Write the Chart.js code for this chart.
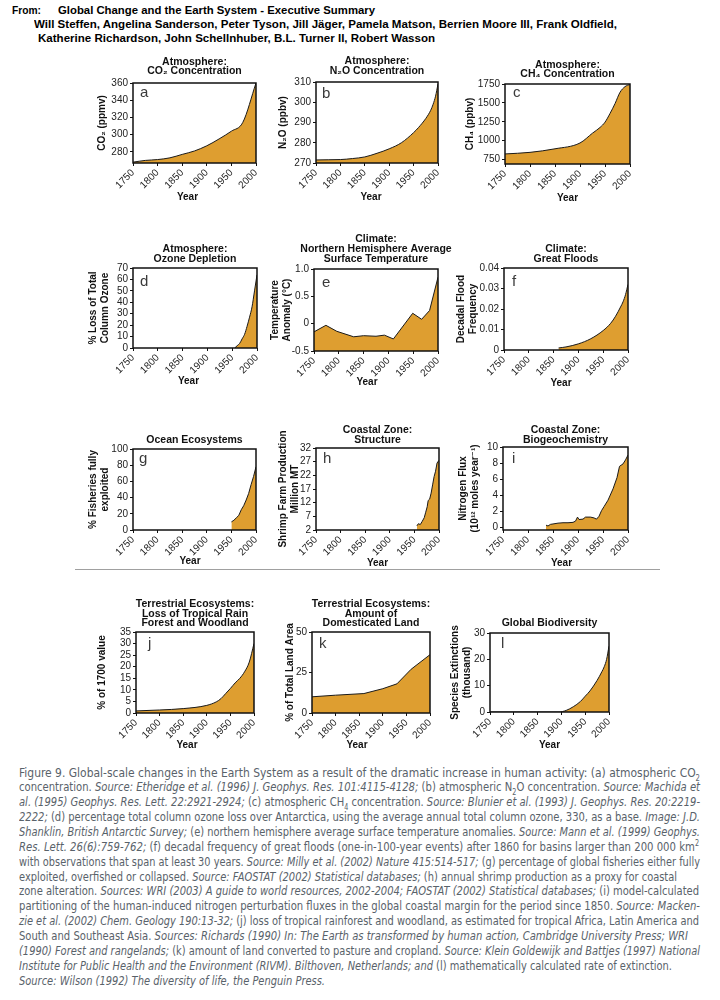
<!DOCTYPE html>
<html>
<head>
<meta charset="utf-8">
<title>Global-scale changes in the Earth System</title>
<script src="https://cdn.jsdelivr.net/npm/chart.js@4.4.1/dist/chart.umd.min.js"></script>
<style>
  html, body { margin: 0; padding: 0; background: #fff; }
  body { position: relative; width: 720px; height: 1000px; overflow: hidden; font-family: "Liberation Sans", Arial, sans-serif; }
  .hd { position: absolute; font-weight: bold; font-size: 11px; line-height: 13px; color: #000; white-space: nowrap; transform-origin: 0 0; }
  .cap { position: absolute; left: 19px; font-family: "Liberation Sans Narrow", "DejaVu Sans Condensed", "Liberation Sans", sans-serif; font-size: 12.5px; line-height: 14.86px; color: #59626a; white-space: nowrap; transform-origin: 0 0; }
  .cap sub, .cap sup { font-size: 8px; line-height: 0; }
  canvas { position: absolute; }
  .rule { position: absolute; left: 75px; top: 569px; width: 585px; height: 0; border-top: 1px solid #a0a0a0; }
</style>
</head>
<body>
<div class="hd" style="left:12px;top:4px" data-w="29">From:</div>
<div class="hd" style="left:58px;top:4px" data-w="317">Global Change and the Earth System - Executive Summary</div>
<div class="hd" style="left:34px;top:18px" data-w="583">Will Steffen, Angelina Sanderson, Peter Tyson, Jill Jäger, Pamela Matson, Berrien Moore III, Frank Oldfield,</div>
<div class="hd" style="left:38px;top:32px" data-w="397">Katherine Richardson, John Schellnhuber, B.L. Turner II, Robert Wasson</div>

<div class="rule"></div>

<div class="cap" data-w="681">Figure 9. Global-scale changes in the Earth System as a result of the dramatic increase in human activity: (a) atmospheric CO<sub>2</sub></div>
<div class="cap" data-w="681">concentration. <i>Source: Etheridge et al. (1996) J. Geophys. Res. 101:4115-4128;</i> (b) atmospheric N<sub>2</sub>O concentration. <i>Source: Machida et</i></div>
<div class="cap" data-w="681"><i>al. (1995) Geophys. Res. Lett. 22:2921-2924;</i> (c) atmospheric CH<sub>4</sub> concentration. <i>Source: Blunier et al. (1993) J. Geophys. Res. 20:2219-</i></div>
<div class="cap" data-w="681"><i>2222;</i> (d) percentage total column ozone loss over Antarctica, using the average annual total column ozone, 330, as a base. <i>Image: J.D.</i></div>
<div class="cap" data-w="681"><i>Shanklin, British Antarctic Survey;</i> (e) northern hemisphere average surface temperature anomalies. <i>Source: Mann et al. (1999) Geophys.</i></div>
<div class="cap" data-w="680"><i>Res. Lett. 26(6):759-762;</i> (f) decadal frequency of great floods (one-in-100-year events) after 1860 for basins larger than 200 000 km<sup>2</sup></div>
<div class="cap" data-w="681">with observations that span at least 30 years. <i>Source: Milly et al. (2002) Nature 415:514-517;</i> (g) percentage of global fisheries either fully</div>
<div class="cap" data-w="658">exploited, overfished or collapsed. <i>Source: FAOSTAT (2002) Statistical databases;</i> (h) annual shrimp production as a proxy for coastal</div>
<div class="cap" data-w="680">zone alteration. <i>Sources: WRI (2003) A guide to world resources, 2002-2004; FAOSTAT (2002) Statistical databases;</i> (i) model-calculated</div>
<div class="cap" data-w="681">partitioning of the human-induced nitrogen perturbation fluxes in the global coastal margin for the period since 1850. <i>Source: Macken-</i></div>
<div class="cap" data-w="680"><i>zie et al. (2002) Chem. Geology 190:13-32;</i> (j) loss of tropical rainforest and woodland, as estimated for tropical Africa, Latin America and</div>
<div class="cap" data-w="669">South and Southeast Asia. <i>Sources: Richards (1990) In: The Earth as transformed by human action, Cambridge University Press; WRI</i></div>
<div class="cap" data-w="681"><i>(1990) Forest and rangelands;</i> (k) amount of land converted to pasture and cropland. <i>Source: Klein Goldewijk and Battjes (1997) National</i></div>
<div class="cap" data-w="653"><i>Institute for Public Health and the Environment (RIVM). Bilthoven, Netherlands; and</i> (l) mathematically calculated rate of extinction.</div>
<div class="cap" data-w="306"><i>Source: Wilson (1992) The diversity of life, the Penguin Press.</i></div>

<script>
// shared year ticks
const xTicks = [1750, 1800, 1850, 1900, 1950, 2000];

// (a) CO2 concentration, ppmv
const co2Years  = [1750, 1775, 1800, 1825, 1850, 1875, 1900, 1925, 1950, 1973, 2000];
const co2Values = [268, 270, 271, 273, 277, 281, 287, 295, 304, 314, 360];
const co2Ticks  = [280, 300, 320, 340, 360];

// (b) N2O concentration, ppbv
const n2oYears  = [1750, 1775, 1800, 1825, 1850, 1875, 1900, 1925, 1950, 1960, 1975, 1985, 1990, 1995, 2000];
const n2oValues = [271.5, 271.6, 271.7, 272.2, 273, 274.8, 277, 280, 285, 287.5, 292, 296, 299, 303, 309];
const n2oTicks  = [270, 280, 290, 300, 310];

// (c) CH4 concentration, ppbv
const ch4Years  = [1750, 1800, 1850, 1900, 1925, 1940, 1950, 1960, 1970, 1980, 1990, 2000];
const ch4Values = [825, 846, 893, 970, 1100, 1175, 1245, 1360, 1490, 1640, 1715, 1745];
const ch4Ticks  = [750, 1000, 1250, 1500, 1750];

// (d) ozone depletion, % loss
const ozoneYears  = [1955, 1960, 1965, 1970, 1975, 1980, 1985, 1990, 1995, 2000];
const ozoneValues = [0, 2, 4, 8, 12, 19, 27, 36, 50, 64];
const ozoneTicks  = [0, 10, 20, 30, 40, 50, 60, 70];

// (e) NH temperature anomaly, deg C
const tempYears  = [1750, 1774, 1796, 1830, 1850, 1875, 1892, 1910, 1949, 1967, 1983, 2000];
const tempValues = [-0.15, -0.03, -0.14, -0.24, -0.22, -0.23, -0.21, -0.28, 0.19, 0.08, 0.24, 0.85];
const tempTicks  = [-0.5, 0, 0.5, 1.0];
const tempTickLabels = ['-0.5', '0', '0.5', '1.0'];

// (f) great floods, decadal frequency
const floodYears  = [1860, 1875, 1900, 1925, 1950, 1965, 1975, 1985, 1990, 1995, 2000];
const floodValues = [0.001, 0.0015, 0.003, 0.0055, 0.0095, 0.013, 0.0165, 0.021, 0.0235, 0.027, 0.032];
const floodTicks  = [0, 0.01, 0.02, 0.03, 0.04];

// (g) fisheries fully exploited, %
const fishYears  = [1950, 1955, 1960, 1965, 1970, 1975, 1980, 1985, 1990, 1995, 2000];
const fishValues = [10, 12, 15, 18, 25, 30, 37, 45, 56, 66, 78];
const fishTicks  = [0, 20, 40, 60, 80, 100];

// (h) shrimp farm production, million MT
const shrimpYears  = [1955, 1958, 1962, 1966, 1970, 1973, 1976, 1978, 1981, 1984, 1987, 1990, 1993, 1996, 2000];
const shrimpValues = [3.5, 4.3, 4.0, 5.2, 6.5, 8.5, 10.5, 12.8, 13.3, 15.5, 18.5, 21.5, 23.5, 26.5, 27.5];
const shrimpTicks  = [2, 7, 12, 17, 22, 27, 32];

// (i) nitrogen flux
const nitroYears  = [1836, 1840, 1845, 1850, 1860, 1870, 1880, 1890, 1895, 1899, 1902, 1910, 1915, 1925, 1932, 1937, 1942, 1947, 1952, 1960, 1970, 1978, 1983, 1990, 1995, 2000];
const nitroValues = [0.3, 0.2, 0.4, 0.45, 0.55, 0.6, 0.6, 0.65, 0.8, 1.3, 1.0, 1.05, 1.3, 1.3, 1.2, 1.05, 1.4, 2.1, 2.6, 3.4, 4.8, 6.2, 7.6, 7.9, 8.4, 9.0];
const nitroTicks  = [0, 2, 4, 6, 8, 10];

// (j) loss of tropical rain forest, % of 1700 value
const forestYears  = [1750, 1800, 1850, 1900, 1920, 1930, 1940, 1950, 1960, 1970, 1980, 1990, 2000];
const forestValues = [0.9, 1.3, 1.9, 3.3, 4.8, 6.2, 8.4, 10.6, 13, 15, 17.8, 22, 30];
const forestTicks  = [0, 5, 10, 15, 20, 25, 30, 35];

// (k) domesticated land, % of total land area
const landYears  = [1750, 1800, 1860, 1900, 1930, 1960, 2000];
const landValues = [10, 11, 12, 15, 18, 27, 36];
const landTicks  = [0, 25, 50];

// (l) species extinctions, thousand
const extinctYears  = [1750, 1800, 1850, 1895, 1910, 1925, 1940, 1950, 1960, 1975, 1985, 1990, 1995, 2000];
const extinctValues = [0, 0, 0, 0, 0.6, 2, 4, 6, 8, 12, 15.3, 17.2, 20, 25];
const extinctTicks  = [0, 10, 20, 30];

const FONT = '"Liberation Sans", "DejaVu Sans", Arial, sans-serif';
const FILL = '#DE9E30';
const LEFT = 80, TOP = 50, RIGHT = 14, BOTTOM = 60;

Chart.defaults.font.family = FONT;

const panels = [
  { letter: 'a', title: ['Atmosphere:', 'CO₂ Concentration'], yTitle: 'CO₂ (ppmv)',
    years: co2Years, values: co2Values, ticks: co2Ticks, min: 267, max: 360, smooth: true,
    plot: [133, 83, 123, 80], yt: 102, tt: -11.5, lx: 7, ly: 14, yd: -7, yy: 34 },
  { letter: 'b', title: ['Atmosphere:', 'N₂O Concentration'], yTitle: 'N₂O (ppbv)',
    years: n2oYears, values: n2oValues, ticks: n2oTicks, min: 270, max: 310, smooth: true,
    plot: [316, 82, 122, 81], yt: 283, tt: -11, lx: 6, ly: 16, yd: -6, yy: 34 },
  { letter: 'c', title: ['Atmosphere:', 'CH₄ Concentration'], yTitle: 'CH₄ (ppbv)',
    years: ch4Years, values: ch4Values, ticks: ch4Ticks, min: 692, max: 1750, smooth: true,
    plot: [505, 84, 125, 80], yt: 470, tt: -9.5, lx: 8, ly: 13, yd: 0, yy: 34 },
  { letter: 'd', title: ['Atmosphere:', 'Ozone Depletion'], yTitle: ['% Loss of Total', 'Column Ozone'],
    years: ozoneYears, values: ozoneValues, ticks: ozoneTicks, min: 0, max: 70, smooth: true,
    plot: [133, 268, 124, 80], yt: 93, tt: -9, lx: 7, ly: 18, yd: -6.5, yy: 33 },
  { letter: 'e', title: ['Climate:', 'Northern Hemisphere Average', 'Surface Temperature'], yTitle: ['Temperature', 'Anomaly (°C)'],
    years: tempYears, values: tempValues, ticks: tempTicks, labels: tempTickLabels, min: -0.5, max: 1.0, smooth: false,
    plot: [314, 269, 124, 82], yt: 275, tt: -10, lx: 8, ly: 18, yd: -9, yy: 31 },
  { letter: 'f', title: ['Climate:', 'Great Floods'], yTitle: ['Decadal Flood', 'Frequency'],
    years: floodYears, values: floodValues, ticks: floodTicks, min: 0, max: 0.04, smooth: true,
    plot: [504, 268, 124, 82], yt: 461, tt: -9, lx: 8, ly: 18, yd: -5, yy: 33 },
  { letter: 'g', title: ['Ocean Ecosystems'], yTitle: ['% Fisheries fully', 'exploited'],
    years: fishYears, values: fishValues, ticks: fishTicks, min: 0, max: 100, smooth: false,
    plot: [133, 449, 123, 81], yt: 93, tt: -9, lx: 6, ly: 14, yd: -4.5, yy: 31 },
  { letter: 'h', title: ['Coastal Zone:', 'Structure'], yTitle: ['Shrimp Farm Production', 'Million MT'],
    years: shrimpYears, values: shrimpValues, ticks: shrimpTicks, min: 2, max: 32, smooth: false,
    plot: [316, 448, 123, 82], yt: 283, tt: -8, lx: 7, ly: 15, yd: 0, yy: 33 },
  { letter: 'i', title: ['Coastal Zone:', 'Biogeochemistry'], yTitle: ['Nitrogen Flux', '(10¹² moles year⁻¹)'],
    years: nitroYears, values: nitroValues, ticks: nitroTicks, min: -0.3, max: 10, smooth: false,
    plot: [503, 447, 125, 83], yt: 463, tt: -7, lx: 9, ly: 16, yd: -4, yy: 33 },
  { letter: 'j', title: ['Terrestrial Ecosystems:', 'Loss of Tropical Rain', 'Forest and Woodland'], yTitle: '% of 1700 value',
    years: forestYears, values: forestValues, ticks: forestTicks, min: 0, max: 35, smooth: true,
    plot: [136, 632, 118, 81], yt: 102, tt: -8.5, lx: 12, ly: 16, yd: -8, yy: 32 },
  { letter: 'k', title: ['Terrestrial Ecosystems:', 'Amount of', 'Domesticated Land'], yTitle: '% of Total Land Area',
    years: landYears, values: landValues, ticks: landTicks, min: 0, max: 50, smooth: false,
    plot: [312, 632, 118, 81], yt: 290, tt: -8.5, lx: 7, ly: 16, yd: -14, yy: 32 },
  { letter: 'l', title: ['Global Biodiversity'], yTitle: ['Species Extinctions', '(thousand)'],
    years: extinctYears, values: extinctValues, ticks: extinctTicks, min: 0, max: 30, smooth: true,
    plot: [490, 633, 119, 79], yt: 455, tt: -10, lx: 11, ly: 15, yd: 0, yy: 33 }
];

// box, panel letter, title and "Year" label
function decor(p) {
  return {
    id: 'decor',
    afterDatasetsDraw(chart) {
      const { ctx, chartArea: a } = chart;
      const cx = (a.left + a.right) / 2;
      ctx.save();
      ctx.strokeStyle = '#111';
      ctx.lineWidth = 1.5;
      ctx.strokeRect(a.left, a.top, a.right - a.left, a.bottom - a.top);

      ctx.fillStyle = '#3a3a3a';
      ctx.font = '15px ' + FONT;
      ctx.textAlign = 'left';
      ctx.textBaseline = 'alphabetic';
      ctx.fillText(p.letter, a.left + p.lx, a.top + p.ly);

      ctx.fillStyle = '#111';
      ctx.font = 'bold 10.5px ' + FONT;
      ctx.textAlign = 'center';
      ctx.textBaseline = 'middle';
      const n = p.title.length;
      p.title.forEach((t, i) => ctx.fillText(t, cx, a.top + p.tt - (n - 1 - i) * 9.7));

      ctx.font = 'bold 10px ' + FONT;
      ctx.fillText('Year', cx + p.yd, a.bottom + p.yy);
      ctx.restore();
    }
  };
}

panels.forEach(p => {
  const [px, py, pw, ph] = p.plot;
  const canvas = document.createElement('canvas');
  canvas.width = pw + LEFT + RIGHT;
  canvas.height = ph + TOP + BOTTOM;
  canvas.style.left = (px - LEFT) + 'px';
  canvas.style.top = (py - TOP) + 'px';
  document.body.appendChild(canvas);

  const tickFont = { family: FONT, size: 10 };
  const tickGrid = { drawOnChartArea: false, drawTicks: true, tickLength: 3, color: '#111', lineWidth: 1 };

  new Chart(canvas.getContext('2d'), {
    type: 'line',
    data: {
      datasets: [{
        data: p.years.map((x, i) => ({ x: x, y: p.values[i] })),
        borderColor: '#1a1a1a',
        borderWidth: 1,
        backgroundColor: FILL,
        fill: 'start',
        pointRadius: 0,
        tension: 0,
        cubicInterpolationMode: p.smooth ? 'monotone' : 'default'
      }]
    },
    options: {
      responsive: false,
      animation: false,
      layout: { padding: { left: 0, top: TOP, right: RIGHT, bottom: 0 } },
      plugins: { legend: { display: false }, tooltip: { enabled: false } },
      scales: {
        x: {
          type: 'linear',
          min: 1750,
          max: 2000,
          afterBuildTicks: s => { s.ticks = xTicks.map(v => ({ value: v })); },
          afterFit: s => { s.height = BOTTOM; },
          border: { display: false },
          grid: tickGrid,
          ticks: {
            autoSkip: false, minRotation: 45, maxRotation: 45, padding: 1,
            color: '#222', font: tickFont,
            callback: v => String(v)
          }
        },
        y: {
          type: 'linear',
          min: p.min,
          max: p.max,
          afterBuildTicks: s => { s.ticks = p.ticks.map(v => ({ value: v })); },
          afterFit: s => { s.width = LEFT; },
          border: { display: false },
          grid: tickGrid,
          ticks: {
            autoSkip: false, padding: 2, color: '#222', font: tickFont,
            callback: (v, i) => p.labels ? p.labels[i] : String(v)
          },
          title: {
            display: true,
            text: p.yTitle,
            color: '#111',
            font: { family: FONT, size: 10, weight: 'bold' },
            padding: { top: p.yt - (px - LEFT) - 6, bottom: 0 }
          }
        }
      }
    },
    plugins: [decor(p)]
  });
});

// caption lines and header lines, squeezed to the widths in the picture
const CAP_TOP = 765.5, CAP_LH = 14.86;
document.querySelectorAll('.cap').forEach((el, i) => { el.style.top = (CAP_TOP + i * CAP_LH) + 'px'; });
function fitText() {
  document.querySelectorAll('[data-w]').forEach(el => {
    el.style.transform = 'none';
    const w = el.getBoundingClientRect().width;
    el.style.transform = 'scaleX(' + (Number(el.dataset.w) / w) + ')';
  });
}
fitText();
if (document.fonts && document.fonts.ready) document.fonts.ready.then(fitText);
</script>
</body>
</html>
